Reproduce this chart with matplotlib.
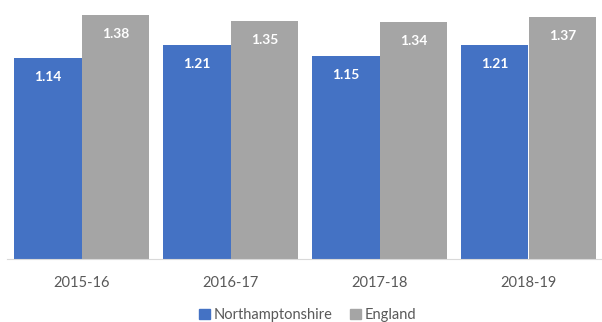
import numpy as np
import matplotlib.pyplot as plt
from matplotlib.patches import Patch

years = ['2015-16', '2016-17', '2017-18', '2018-19']
northants = [1.14, 1.21, 1.15, 1.21]
england = [1.38, 1.35, 1.34, 1.37]

blue = '#4472C4'
grey = '#A5A5A5'
text_col = '#595959'

plt.rcParams['font.family'] = ['Lato', 'DejaVu Sans']

fig = plt.figure(figsize=(6.02, 3.22), dpi=100)
ax = fig.add_axes([7 / 602, 63 / 322, 596 / 602, 259 / 322])

x = np.arange(len(years))
w = 0.456
b1 = ax.bar(x - w / 2, northants, w, color=blue)
b2 = ax.bar(x + w / 2, england, w, color=grey)

# value labels inside the top of each bar
for bars, vals in [(b1, northants), (b2, england)]:
    for bar, v in zip(bars, vals):
        ax.annotate(f'{v:.2f}', (bar.get_x() + bar.get_width() / 2, v),
                    xytext=(0, -19), textcoords='offset pixels',
                    ha='center', va='center', color='white',
                    fontsize=10, fontweight='bold')

ax.set_xlim(-0.5, 3.5)
ax.set_ylim(0, 1.467)
ax.set_xticks(x)
ax.set_xticklabels(years, color=text_col, fontsize=10.5)
ax.tick_params(axis='x', length=0, pad=12)
ax.set_yticks([])
for s in ['top', 'right', 'left']:
    ax.spines[s].set_visible(False)
ax.spines['bottom'].set_color('#D9D9D9')

handles = [Patch(color=blue, label='Northamptonshire'),
           Patch(color=grey, label='England')]
fig.legend(handles=handles, loc='center', bbox_to_anchor=(308 / 602, 1 - 315 / 322),
           ncol=2, frameon=False, fontsize=10.5, labelcolor=text_col,
           handlelength=0.7, handleheight=0.7, handletextpad=0.3, columnspacing=1.2)

fig.savefig('out.png', dpi=100)
